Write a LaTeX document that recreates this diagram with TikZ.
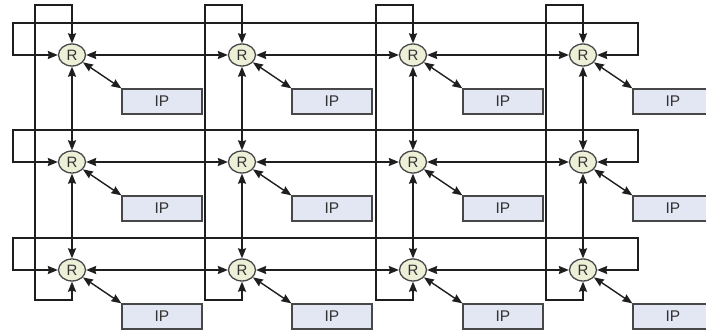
\documentclass[tikz,border=0pt]{standalone}
\usepackage{fontspec}
\setmainfont{Liberation Sans}
\usetikzlibrary{arrows.meta,shapes.geometric}
\definecolor{routerfill}{HTML}{EDF0D6}
\definecolor{ipfill}{HTML}{E3E6F3}
\definecolor{linkcol}{HTML}{1E1E1E}
\definecolor{textcol}{HTML}{333333}
\begin{document}
\begin{tikzpicture}[x=1pt,y=-1pt,
  router/.style={ellipse,draw=black!72,fill=routerfill,line width=1.3pt,
    minimum width=27pt,minimum height=22pt,inner sep=0pt,text=textcol,
    font=\fontsize{15}{15}\selectfont},
  ipbox/.style={rectangle,draw=black!72,fill=ipfill,line width=1.3pt,
    minimum width=80pt,minimum height=25pt,inner sep=0pt,text=textcol,
    font=\fontsize{15.5}{15.5}\selectfont},
  link/.style={draw=linkcol,line width=1.4pt,
    {Stealth[length=10pt,width=8pt,inset=1pt]}-{Stealth[length=10pt,width=8pt,inset=1pt]}}
]
\clip (0,0) rectangle (706,334);
\fill[white] (0,0) rectangle (706,334);

% routers, their IP cores and the local links
\foreach \c/\x in {1/72,2/242,3/413,4/583}{
  \foreach \r/\y in {1/55,2/162,3/270}{
    \node[router] (R\c\r) at (\x,\y) {R};
    \node[ipbox] (IP\c\r) at (\x+90,\y+46.5) {IP};
    \draw[link] (R\c\r) -- (IP\c\r.north west);
  }
}

% mesh links along each row
\foreach \r in {1,2,3}{
  \draw[link] (R1\r) -- (R2\r);
  \draw[link] (R2\r) -- (R3\r);
  \draw[link] (R3\r) -- (R4\r);
}
% mesh links along each column
\foreach \c in {1,2,3,4}{
  \draw[link] (R\c1) -- (R\c2);
  \draw[link] (R\c2) -- (R\c3);
}

% wrap-around links of the rows
\foreach \r/\y in {1/55,2/162,3/270}{
  \draw[link] (R1\r.west) -- (13,\y) -- (13,\y-32) -- (638,\y-32)
    -- (638,\y) -- (R4\r.east);
}
% wrap-around links of the columns
\foreach \c/\x in {1/72,2/242,3/413,4/583}{
  \draw[link] (R\c1.north) -- (\x,5) -- (\x-37,5) -- (\x-37,300)
    -- (\x,300) -- (R\c3.south);
}
\end{tikzpicture}
\end{document}
